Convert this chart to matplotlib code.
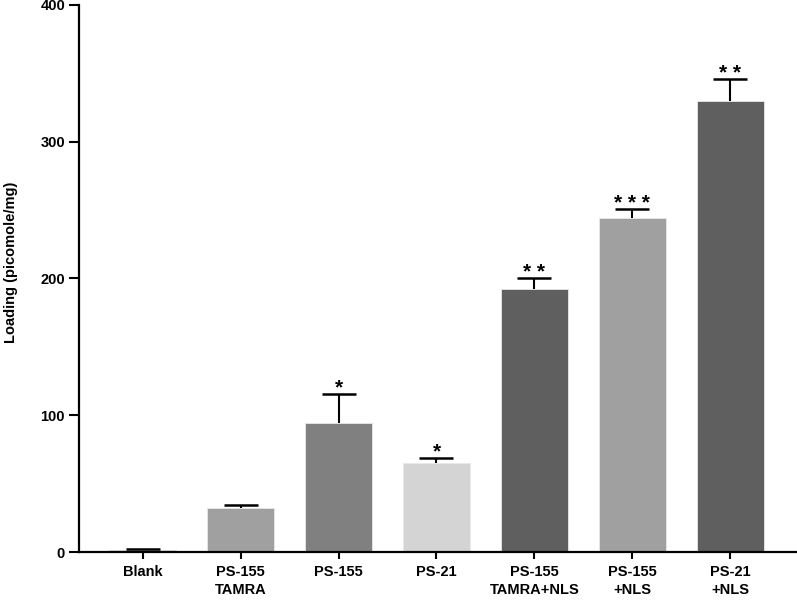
import numpy as np
import matplotlib
matplotlib.use('Agg')
import matplotlib.pyplot as plt

# Loading per group (picomole/mg)
labels = ['Blank', 'PS-155\nTAMRA', 'PS-155', 'PS-21',
          'PS-155\nTAMRA+NLS', 'PS-155\n+NLS', 'PS-21\n+NLS']
values = [1.5, 32, 94.6, 65, 192, 244, 329.5]
errors = [1.0, 2.5, 21, 4, 8, 7, 16.5]
stars = ['', '', '*', '*', '* *', '* * *', '* *']
colors = ['#5f5f5f', '#a0a0a0', '#808080', '#d4d4d4',
          '#5f5f5f', '#a0a0a0', '#5f5f5f']

plt.rcParams['font.family'] = ['Liberation Sans', 'DejaVu Sans']
plt.rcParams['font.weight'] = 'bold'

fig = plt.figure(figsize=(7.97, 6.02), dpi=100)
ax = fig.add_axes([0.099, 0.083, 0.901, 0.909])

x = np.arange(len(labels))
ax.bar(x, values, width=0.69, color=colors, edgecolor='#e8e8e8',
       linewidth=0.6, zorder=2)
# upper error only
eb = ax.errorbar(x, values, yerr=[np.zeros(len(errors)), errors], fmt='none',
                 ecolor='black', elinewidth=1.5, capsize=12, capthick=1.8,
                 zorder=3)
eb[1][0].set_visible(False)

for xi, v, e, s in zip(x, values, errors, stars):
    if s:
        ax.annotate(s, xy=(xi, v + e), xytext=(0, 0), textcoords='offset points',
                    ha='center', va='baseline', fontsize=15, fontweight='bold')

ax.set_xlim(-0.65, 6.68)
ax.set_ylim(0, 400)
ax.set_yticks([0, 100, 200, 300, 400])
ax.set_xticks(x)
ax.set_xticklabels(labels, fontsize=10.5, fontweight='bold', linespacing=1.45)
ax.tick_params(axis='y', labelsize=10.5, width=1.5, length=7, pad=3)
ax.tick_params(axis='x', width=1.5, length=5, pad=4)
ax.set_ylabel('Loading (picomole/mg)', fontsize=10.5, fontweight='bold', labelpad=16)
ax.yaxis.set_label_coords(-0.085, 0.53)

for side in ['top', 'right']:
    ax.spines[side].set_visible(False)
for side in ['left', 'bottom']:
    ax.spines[side].set_linewidth(1.6)

fig.savefig('out.png', dpi=100, facecolor='white')
plt.close(fig)
